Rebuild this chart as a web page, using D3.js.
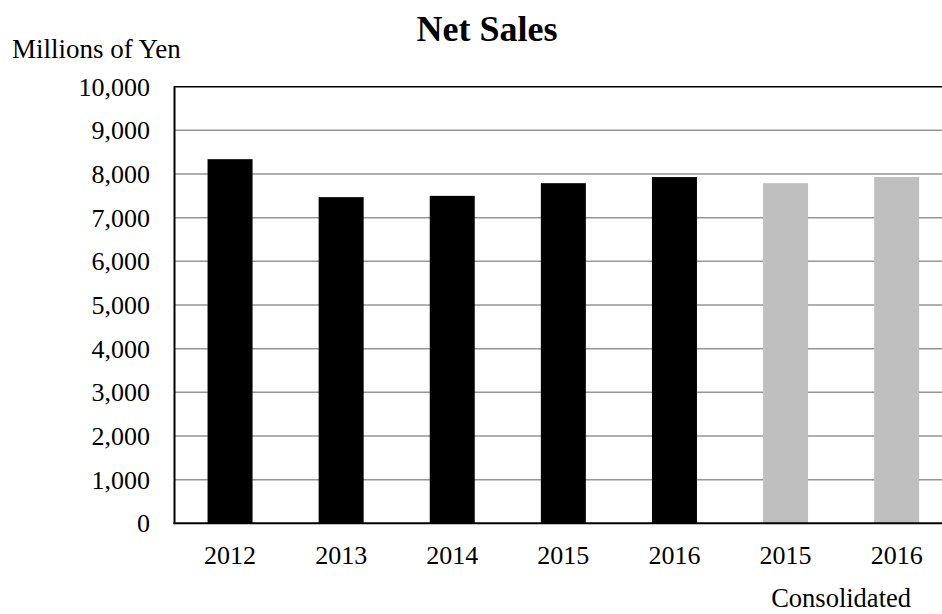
<!DOCTYPE html>
<html>
<head>
<meta charset="utf-8">
<script src="https://cdn.jsdelivr.net/npm/d3@7"></script>
<style>
  body { margin: 0; background: #fff; }
  svg { display: block; font-family: "Liberation Serif", "Times New Roman", serif; }
</style>
</head>
<body>
<svg id="chart" width="942" height="614"></svg>
<script>
// bar labels and values (millions of yen)
const years = ["2012", "2013", "2014", "2015", "2016", "2015", "2016"];
const netSales = [8340, 7470, 7500, 7790, 7930, 7790, 7930];
const consolidated = [false, false, false, false, false, true, true];
const yTicks = [0, 1000, 2000, 3000, 4000, 5000, 6000, 7000, 8000, 9000, 10000];

const data = years.map((y, i) => ({ key: i, year: y, value: netSales[i], cons: consolidated[i] }));

const svg = d3.select("#chart");
const plotLeft = 174.5, plotTop = 86.7, plotBottom = 523.3, step = 111.1;
const plotRight = plotLeft + step * data.length;

const x = d3.scaleBand()
    .domain(data.map(d => d.key))
    .range([plotLeft, plotRight])
    .paddingInner(0.595)
    .paddingOuter(0.2975);

const y = d3.scaleLinear()
    .domain([0, 10000])
    .range([plotBottom, plotTop]);

// gridlines
svg.append("g")
  .selectAll("line")
  .data(yTicks.filter(t => t > 0 && t < 10000))
  .enter()
  .append("line")
    .attr("x1", plotLeft)
    .attr("x2", plotRight)
    .attr("y1", d => y(d))
    .attr("y2", d => y(d))
    .attr("stroke", "#969696")
    .attr("stroke-width", 1.5);

// bars
svg.append("g")
  .selectAll("rect")
  .data(data)
  .enter()
  .append("rect")
    .attr("x", d => x(d.key))
    .attr("y", d => y(d.value))
    .attr("width", x.bandwidth())
    .attr("height", d => y(0) - y(d.value))
    .attr("fill", d => d.cons ? "#bfbfbf" : "#000");

// frame: top, left, bottom
svg.append("line")
    .attr("x1", plotLeft).attr("x2", plotRight)
    .attr("y1", y(10000)).attr("y2", y(10000))
    .attr("stroke", "#000").attr("stroke-width", 1.5);
svg.append("line")
    .attr("x1", plotLeft).attr("x2", plotLeft)
    .attr("y1", y(10000) - 0.75).attr("y2", y(0) + 1)
    .attr("stroke", "#000").attr("stroke-width", 2);
svg.append("line")
    .attr("x1", plotLeft - 1).attr("x2", plotRight)
    .attr("y1", y(0)).attr("y2", y(0))
    .attr("stroke", "#000").attr("stroke-width", 2);

// y tick labels
svg.append("g")
  .selectAll("text")
  .data(yTicks)
  .enter()
  .append("text")
    .attr("x", 150)
    .attr("y", d => y(d))
    .attr("dy", "0.35em")
    .attr("text-anchor", "end")
    .style("font-size", "26px")
    .text(d => d3.format(",")(d));

// x labels
svg.append("g")
  .selectAll("text")
  .data(data)
  .enter()
  .append("text")
    .attr("x", d => x(d.key) + x.bandwidth() / 2)
    .attr("y", 564)
    .attr("text-anchor", "middle")
    .style("font-size", "26px")
    .text(d => d.year);

const consBars = data.filter(d => d.cons);
const consMid = (x(consBars[0].key) + x(consBars[consBars.length - 1].key) + x.bandwidth()) / 2;
svg.append("text")
    .attr("x", consMid)
    .attr("y", 607)
    .attr("text-anchor", "middle")
    .style("font-size", "26.5px")
    .text("Consolidated");

svg.append("text")
    .attr("x", 12)
    .attr("y", 58)
    .style("font-size", "27px")
    .text("Millions of Yen");

svg.append("text")
    .attr("x", 487)
    .attr("y", 41)
    .attr("text-anchor", "middle")
    .style("font-size", "36px")
    .style("font-weight", "bold")
    .text("Net Sales");
</script>
</body>
</html>
